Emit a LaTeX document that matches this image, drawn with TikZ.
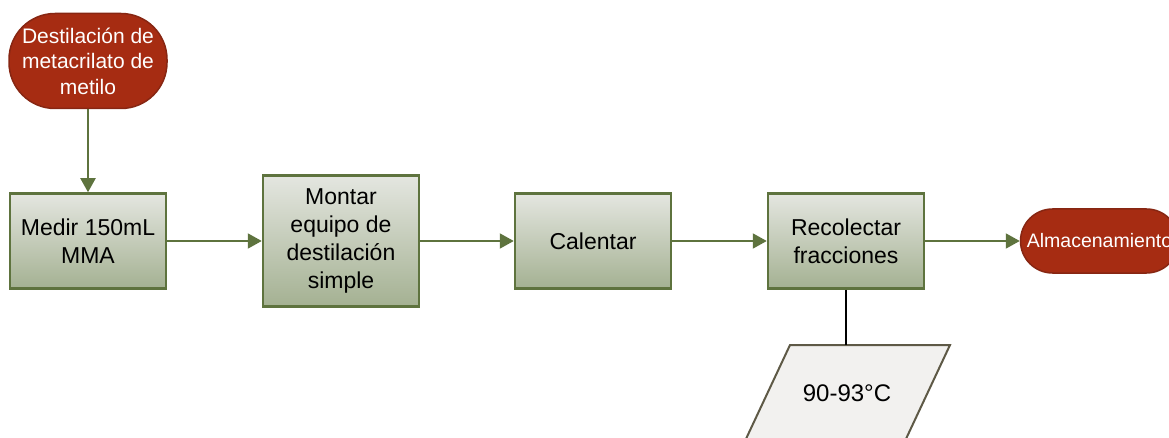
\documentclass[tikz,border=0pt]{standalone}
\usepackage{fontspec}
\setmainfont{Liberation Sans}
\usetikzlibrary{arrows.meta}
\definecolor{termfill}{RGB}{166,44,18}
\definecolor{termline}{RGB}{135,38,18}
\definecolor{olive}{RGB}{94,115,62}
\definecolor{boxtop}{RGB}{228,230,224}
\definecolor{boxbot}{RGB}{164,177,146}
\definecolor{datafill}{RGB}{242,241,239}
\definecolor{dataline}{RGB}{94,89,70}
\tikzset{
  terminal/.style={draw=termline, line width=1.5pt, fill=termfill, text=white,
    rounded corners=#1, align=center, inner sep=0pt},
  process/.style={draw=olive, line width=2.5pt, top color=boxtop, bottom color=boxbot,
    minimum width=156pt, align=center, inner sep=0pt,
    font=\fontsize{23}{28}\selectfont},
  flow/.style={draw=olive, line width=2pt, -{Triangle[length=14pt,width=15pt]}},
  datashape/.style={draw=dataline, line width=2pt, fill=datafill},
}
\begin{document}
\begin{tikzpicture}[x=1pt,y=-1pt]
\useasboundingbox (0,0) rectangle (1169,438);
\clip (0,0) rectangle (1169,438);

% start and end terminals
\node[terminal=46pt, minimum width=158pt, minimum height=95pt,
  font=\fontsize{21}{25.5}\selectfont] (start) at (88,61)
  {Destilación de\\metacrilato de\\metilo};
\node[terminal=32pt, minimum width=158pt, minimum height=64pt,
  font=\fontsize{19.5}{24}\selectfont] (store) at (1099.5,241) {Almacenamiento};

% process steps
\node[process, minimum height=95pt] (measure) at (88,241) {Medir 150mL\\MMA};
\node[process, minimum height=131pt] (mount) at (341,241)
  {Montar\\equipo de\\destilación\\simple};
\node[process, minimum height=95pt] (heat) at (593,241) {Calentar};
\node[process, minimum height=95pt] (collect) at (846,241) {Recolectar\\fracciones};

% data parallelogram with the temperature range
\draw[datashape] (790,345) -- (950,345) -- (905,441) -- (745,441) -- cycle;
\coordinate (datatop) at (846,345);
\node[font=\fontsize{24}{28}\selectfont] (temp) at (847,393) {90-93°C};

% connectors
\draw[flow] (start) -- (measure);
\draw[flow] (measure) -- (mount);
\draw[flow] (mount) -- (heat);
\draw[flow] (heat) -- (collect);
\draw[flow] (collect) -- (store);
\draw[line width=1.5pt] (collect.south) -- (datatop);
\end{tikzpicture}
\end{document}
